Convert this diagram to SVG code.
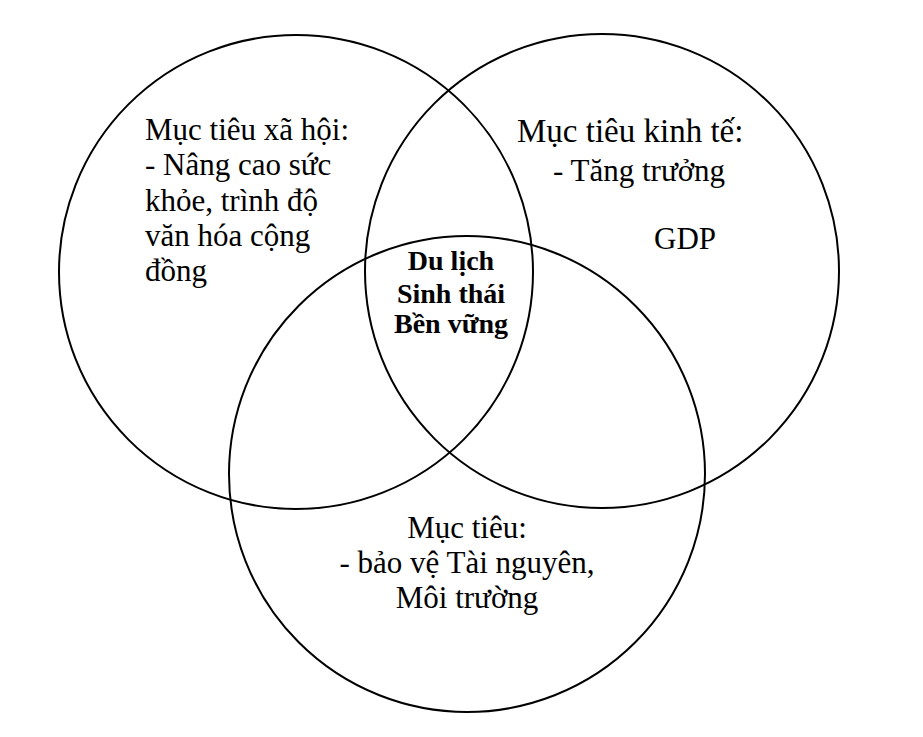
<svg xmlns="http://www.w3.org/2000/svg" width="923" height="737" viewBox="0 0 923 737">
<style>
.c{fill:none;stroke:#000;stroke-width:2}
.t{font-family:"Liberation Serif","Times New Roman",serif;font-size:31px;fill:#000}
.h{font-size:33px}
.b{font-family:"Liberation Serif","Times New Roman",serif;font-size:28px;font-weight:bold;fill:#000}
</style>
<rect width="923" height="737" fill="#fff"/>
<g id="social">
<circle class="c" cx="296" cy="272" r="237"/>
<text class="t" x="145" y="140">Mục tiêu xã hội:</text>
<text class="t" x="145" y="175">- Nâng cao sức</text>
<text class="t" x="145" y="210.5">khỏe, trình độ</text>
<text class="t" x="145" y="245.5">văn hóa cộng</text>
<text class="t" x="145" y="280.5">đồng</text>
</g>
<g id="economic">
<circle class="c" cx="602" cy="271" r="237"/>
<text class="t h" x="517" y="142">Mục tiêu kinh tế:</text>
<text class="t" x="553" y="180.5">- Tăng trưởng</text>
<text class="t" x="654" y="249">GDP</text>
</g>
<g id="environment">
<circle class="c" cx="467" cy="474" r="238"/>
<text class="t" x="467" y="538" text-anchor="middle">Mục tiêu:</text>
<text class="t" x="467" y="573" text-anchor="middle">- bảo vệ Tài nguyên,</text>
<text class="t" x="467" y="607.5" text-anchor="middle">Môi trường</text>
</g>
<g id="center">
<text class="b" x="451" y="270" text-anchor="middle">Du lịch</text>
<text class="b" x="451" y="302.5" text-anchor="middle">Sinh thái</text>
<text class="b" x="451" y="333" text-anchor="middle">Bền vững</text>
</g>
<g id="connectors"></g>
</svg>
